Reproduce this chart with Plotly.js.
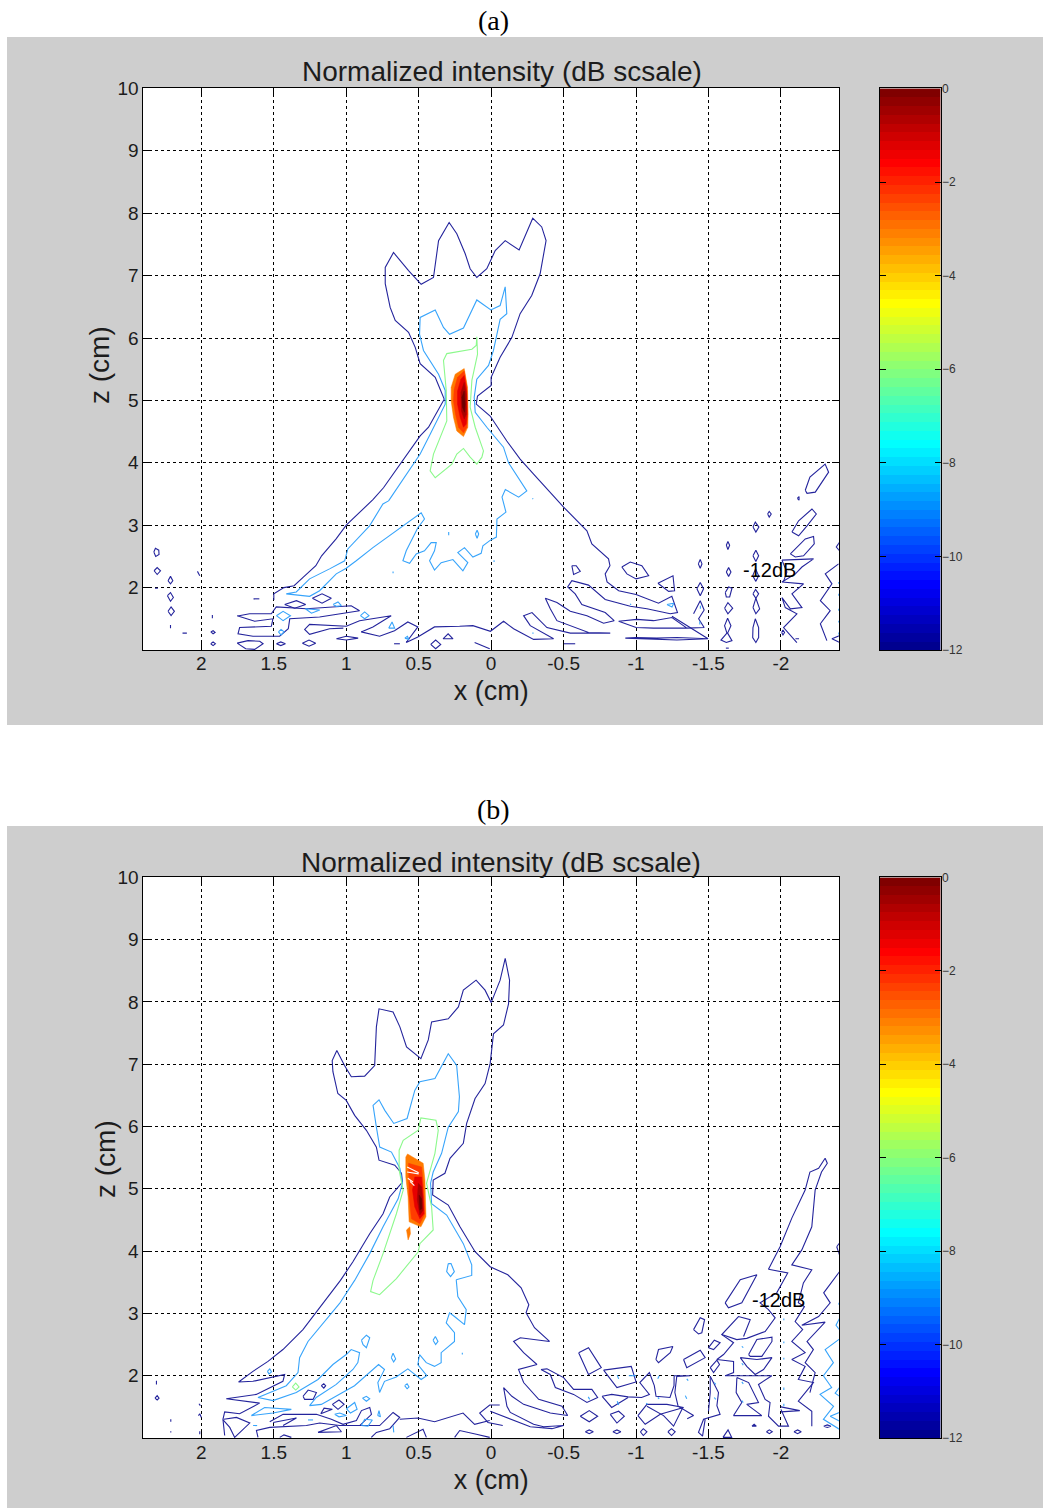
<!DOCTYPE html>
<html><head><meta charset="utf-8">
<script src="https://cdn.plot.ly/plotly-3.0.1.min.js"></script>
<style>html,body{margin:0;padding:0;background:#fff}#c{width:1043px;height:1508px}</style>
</head><body><div id="c"></div>
<script>
// ---------- values: each list is x0,z0,x1,z1,... (cm) ----------
const xTicks=[2,1.5,1,0.5,0,-0.5,-1,-1.5,-2];
const xTickText=['2','1.5','1','0.5','0','-0.5','-1','-1.5','-2'];
const zTicks=[2,3,4,5,6,7,8,9,10];
const dbTicks=[0,-2,-4,-6,-8,-10,-12];
const colorIndex=[[1],[2],[3],[4],[5],[6],[7],[8],[9],[10],[11],[12],[13],[14],[15],[16],[17],[18],[19],[20],[21],[22],[23],[24],[25],[26],[27],[28],[29],[30],[31],[32],[33],[34],[35],[36],[37],[38],[39],[40],[41],[42],[43],[44],[45],[46],[47],[48],[49],[50],[51],[52],[53],[54],[55],[56],[57],[58],[59],[60],[61],[62],[63],[64]];

// Panel (a), -12 dB contour
const a12Paths=[
[1.5,1.80,1.5,1.90,1.43,2.0,1.36,2.03,1.30,2.16,1.21,2.35,1.17,2.51,1.07,2.78,1,3,.816,3.41,.743,3.60,.616,4.01,.49,4.43,.432,4.57,.363,4.86,.324,5.02,.352,5.18,.386,5.37,.49,5.59,.524,5.85,.57,6.09,.662,6.28,.697,6.49,.731,6.87,.731,7.13,.674,7.37,.57,7.08,.483,6.86,.398,6.97,.363,7.56,.29,7.85,.237,7.67,.179,7.35,.145,7.11,.099,6.97,.03,7.11,-.028,7.40,-.097,7.56,-.193,7.41,-.287,7.92,-.349,7.78,-.379,7.56,-.338,7.03,-.28,6.68,-.2,6.39,-.143,6.01,-.062,5.69,0,5.37,0,5.24,.094,5.07,.103,4.94,.007,4.75,-.108,4.35,-.2,4.06,-.293,3.82,-.5,3.29,-.661,2.91,-.695,2.70,-.81,2.46,-.82,2.35,-.787,2.22,-.8,2.09,-.88,1.95,-1,1.89,-1.155,1.75,-1.247,1.86,-1.286,1.60,-1.236,1.58,-1.075,1.66,-.96,1.70,-.787,1.81,-.672,2.04,-.557,2.11,-.528,2.01,-.58,1.90,-.626,1.73,-.787,1.60,-.849,1.47,-.776,1.43,-.661,1.55,-.546,1.62,-.454,1.76,-.374,1.83,-.408,1.66,-.454,1.47,-.672,1.28,-.822,1.27,-.546,1.27,-.385,1.36,-.282,1.60,-.224,1.55,-.27,1.39,-.431,1.18,-.293,1.17,-.155,1.34,-.086,1.46,.005,1.30,.126,1.39,.218,1.38,.391,1.37,.506,1.21,.586,1.12,.506,1.37,.575,1.45,.667,1.31,.77,1.22,.897,1.29,.816,1.37,.69,1.55,.908,1.47,1,1.38,1.253,1.41,1.287,1.33,1.253,1.25,1.115,1.34,1.02,1.35],
[-2.007,2.44,-2.225,2.46,-2.145,2.33,-2.1,2.22,-2.007,2.09,-2.156,2.06,-2.076,1.90,-2.145,1.68,-2.065,1.66,-2.007,1.84,-2.03,1.68,-2.11,1.58,-2.018,1.36,-2.11,1.12],
[-2.007,2.44,-2.041,2.25,-2.018,2.10],
[-2.398,2.38,-2.306,2.22,-2.352,2.06,-2.272,1.79,-2.34,1.63,-2.272,1.42,-2.317,1.15],
[-2.405,2.73,-2.382,2.65,-2.405,2.59],[-2.405,1.23,-2.352,1.18,-2.405,1.12],
[-1.397,1.58,-1.443,1.79,-1.47,1.64,-1.432,1.50,-1.47,1.36,-1.351,1.35,-1.121,1.35,-1,1.36,-.88,1.46,-1.006,1.49,-1.121,1.47,-1.248,1.52,-1.351,1.35],
[-1.248,1.54,-1.497,1.18,-1.282,1.16,-1.144,1.17,-.926,1.19,-1,1.20,-1.144,1.19,-1.282,1.20,-1.497,1.18],
[.114,1.12,.01,1.02],[2.027,2.26,2.011,2.19],[1.924,1.56,1.924,1.51],[2.213,1.40,2.213,1.35],[2.13,1.27,2.10,1.27],[1.64,1.82,1.6,1.82],[2.32,1.99,2.30,1.99],[.67,1.10,.63,1.10],[-.5,1.10,-.58,1.10],[-2.1,1.18,-2.125,1.18],[-2.113,3.43,-2.125,3.46,-2.125,3.40,-2.113,3.43],[-1.64,1.03,-1.62,1.03]
];
const a12Loops=[
[1.753,1.55,1.74,1.55,1.667,1.58,1.517,1.58,1.483,1.69,1.276,1.66,.966,1.71,.908,1.63,1.184,1.53,1.39,1.50,1.40,1.34,1.46,1.22,1.644,1.22,1.747,1.26,1.736,1.36,1.517,1.38,1.506,1.50,1.632,1.46],
[1.234,1.83,1.167,1.90,1.103,1.83,1.167,1.75],[1.425,1.73,1.344,1.79,1.28,1.73,1.356,1.67],
[1.753,1.11,1.678,1.15,1.597,1.14,1.574,1.10,1.632,1.01,1.694,1.02],[1.482,1.10,1.452,1.13,1.42,1.10,1.452,1.07],
[1.303,1.11,1.257,1.16,1.211,1.11,1.257,1.06],[1.068,1.18,1,1.22,.918,1.19,1,1.16],[.417,1.09,.383,1.16,.348,1.09,.383,1.02],[.332,1.18,.297,1.26,.263,1.18],
[2.328,2.57,2.317,2.63,2.294,2.60,2.292,2.53,2.315,2.50],[2.326,2.27,2.305,2.32,2.282,2.27,2.305,2.21],[2.23,2.11,2.213,2.18,2.197,2.11,2.213,2.06],
[2.234,1.87,2.213,1.92,2.193,1.84,2.213,1.78],[2.23,1.62,2.209,1.69,2.186,1.62,2.209,1.55],[1.935,1.29,1.919,1.31,1.905,1.28,1.919,1.26],[1.935,1.10,1.919,1.13,1.903,1.10,1.919,1.07],
[-.557,2.35,-.587,2.35,-.615,2.26,-.569,2.21],[-.902,2.33,-.96,2.41,-1.04,2.35,-1.087,2.19,-1,2.14,-.937,2.22],[-1.151,2.07,-1.255,2.19,-1.266,1.95,-1.225,1.94],
[-1.43,2.38,-1.443,2.45,-1.455,2.38,-1.443,2.31],[-1.42,1.98,-1.443,2.08,-1.466,1.98,-1.443,1.87],
[-1.623,2.68,-1.634,2.74,-1.646,2.68,-1.634,2.61],[-1.623,2.25,-1.639,2.32,-1.655,2.25,-1.639,2.18],[-1.616,1.92,-1.639,2.01,-1.662,1.99,-1.646,1.85,-1.623,1.85],[-1.611,1.67,-1.634,1.76,-1.667,1.67,-1.634,1.58],
[-1.632,1.51,-1.655,1.39,-1.632,1.27,-1.662,1.15,-1.623,1.12,-1.586,1.16,-1.627,1.27,-1.611,1.39],
[-1.807,2.97,-1.823,3.05,-1.848,2.97,-1.827,2.89],[-1.807,2.51,-1.827,2.60,-1.846,2.51,-1.827,2.42],[-1.805,2.19,-1.825,2.30,-1.846,2.19,-1.827,2.10],[-1.807,1.90,-1.825,1.97,-1.846,1.90,-1.827,1.83],
[-1.807,1.68,-1.827,1.83,-1.853,1.66,-1.827,1.58],[-1.807,1.36,-1.823,1.50,-1.846,1.36,-1.846,1.20,-1.827,1.12,-1.805,1.20],[-1.908,3.18,-1.919,3.22,-1.933,3.18,-1.919,3.13],
[-2.168,3.56,-2.2,3.77,-2.305,3.98,-2.329,3.85,-2.237,3.53,-2.18,3.51],[-2.076,2.89,-2.122,3.07,-2.214,3.26,-2.244,3.18,-2.18,2.99,-2.122,2.83],[-2.065,2.54,-2.168,2.78,-2.225,2.82,-2.23,2.70,-2.156,2.51,-2.099,2.49],
[-2.005,1.28,-2.014,1.32,-2.025,1.28,-2.014,1.24]
];
// Panel (a), -9 dB contour
const a9Loops=[
[.708,3.39,.605,3.74,.49,4.14,.42,4.46,.363,4.73,.317,4.94,.317,5.16,.363,5.42,.467,5.80,.494,6.06,.49,6.33,.386,6.45,.329,6.17,.287,6.06,.191,6.16,.099,6.61,.002,6.45,-.062,6.52,-.097,6.82,-.108,6.39,-.062,6.30,-.016,5.80,.018,5.56,.099,5.34,.117,5.05,.11,4.81,.03,4.57,-.085,4.25,-.12,4.0,-.246,3.55,-.19,3.45,-.098,3.57,-.075,3.45,-.102,3.21,-.04,3.10,-.036,2.81,.005,2.76,.057,2.67,.069,2.55,.126,2.49,.184,2.64,.23,2.56,.161,2.40,.195,2.27,.264,2.45,.345,2.40,.391,2.28,.425,2.43,.391,2.59,.379,2.72,.414,2.72,.46,2.59,.517,2.54,.563,2.39,.609,2.43,.586,2.59,.506,2.96,.46,3.10,.483,3.20,.609,2.99,.816,2.64,.931,2.43,1,2.31,1.069,2.22,1.184,1.95,1.253,1.86,1.414,1.90,1.345,1.93,1.253,2.14,1.115,2.30,1.011,2.43,.989,2.62,.839,2.99,.747,3.34],
[1.482,1.55,1.436,1.62,1.385,1.55,1.436,1.47],[1.282,1.66,1.183,1.64,1.24,1.59],[1.091,1.73,1.057,1.77,1.034,1.71,1.068,1.70],[.902,1.55,.873,1.61,.843,1.55,.873,1.50],[1.468,1.29,1.45,1.33,1.429,1.29,1.45,1.24],[.707,1.35,.684,1.45,.666,1.35],[.596,1.19,.578,1.22,.567,1.17],[.109,2.86,.097,2.92,.086,2.86,.097,2.79],[-1.213,1.73,-1.26,1.75,-1.248,1.69]
];
const a9Paths=[[.293,2.89,.293,2.84],[.677,2.26,.677,2.23],[-.02,2.44,-.02,2.41],[-.285,3.43,-.29,3.42],[-.96,1.74,-.965,1.72],[-.287,1.28,-.29,1.26],[-1.444,1.71,-1.444,1.66],[-1.44,1.46,-1.44,1.41],[-2.399,2.09,-2.399,2.06],[-2.399,1.90,-2.399,1.87],[-2.399,1.66,-2.399,1.63],[-2.399,1.47,-2.399,1.44],[-2.399,1.28,-2.399,1.25]];
// Panel (a), -6 dB contour
const a6Loops=[[.099,6.02,.094,5.74,.133,5.32,.145,4.89,.11,4.57,.053,4.19,.064,4.09,.099,3.98,.145,4.09,.191,4.23,.237,4.14,.271,3.98,.386,3.76,.421,3.87,.398,4.14,.306,4.67,.31,5.16,.329,5.64,.306,5.75,.133,5.82,.103,5.88]];
// Panel (a), focal spot levels, outer to inner
const aSpot1=[.276,5.21,.248,5.42,.186,5.51,.163,5.21,.159,4.78,.161,4.57,.191,4.42,.237,4.51,.26,4.73,.276,4.99];
const aSpot2=[.255,5.18,.232,5.37,.186,5.47,.168,5.21,.163,4.78,.168,4.57,.191,4.48,.225,4.57,.246,4.78,.26,4.99];
const aSpot3=[.232,5.15,.209,5.34,.186,5.40,.168,5.15,.166,4.78,.172,4.62,.191,4.57,.214,4.73,.232,4.94];
const aSpot4=[.209,5.13,.186,5.29,.172,5.10,.172,4.78,.186,4.70,.205,4.83];
const aSpot5=[.202,5.05,.186,5.15,.179,4.94,.184,4.81,.198,4.89];

// Panel (b), -12 dB contour
const b12Paths=[
[.006,1.43,-.109,1.33,-.27,1.18,-.42,1.15,-.5,1.20,-.362,1.18,-.293,1.22,-.132,1.41,-.109,1.51,-.086,1.81,-.143,1.67,-.224,1.54,-.408,1.40,-.528,1.36,-.489,1.51,-.328,1.62,-.224,1.89,-.189,2.10,-.316,2.18,-.224,2.37,-.155,2.55,-.201,2.61,-.403,2.55,-.299,2.77,-.241,3.01,-.26,3.14,-.207,3.41,-.115,3.62,.007,3.75,.111,3.99,.215,4.39,.296,4.74,.404,4.90,.40,5.14,.319,5.25,.284,5.49,.192,5.73,.169,6.05,.111,6.45,.042,6.69,.007,7.01,-.016,7.49,-.085,7.63,-.12,7.97,-.127,8.35,-.097,8.70,-.062,8.35,0,7.99,.042,8.19,.104,8.35,.192,8.19,.226,7.92,.296,7.73,.411,7.68,.434,7.39,.485,7.09,.584,7.28,.63,7.60,.677,7.84,.774,7.89,.792,7.60,.804,6.98,.873,6.81,.965,6.80,1.012,6.98,1.065,7.22,1.097,7.06,1.092,6.88,1.058,6.53,1,6.42,.942,6.18,.861,5.94,.792,5.67,.774,5.46,.665,5.38,.619,5.25,.612,5.11,.70,4.87,.746,4.6,.838,4.28,.954,3.83,1.04,3.53,1.218,3.0,1.299,2.74,1.437,2.42,1.54,2.23,1.644,2.07,1.743,1.90,1.644,1.91,1.494,1.98,1.425,2.02,1.437,1.91,1.621,1.70,1.828,1.63,1.713,1.60,1.598,1.56,1.736,1.39,1.839,1.42,1.851,1.30,1.839,1.04],
[1.845,1.30,1.758,1.33,1.666,1.24,1.77,1.01,1.804,1.17,1.85,1.29],
[1.528,1.26,1.436,1.38,1.206,1.38,1.103,1.30,1.022,1.22,.93,1.28,.895,1.44,.838,1.49,.826,1.38,.907,1.20,1.045,1.20,1.183,1.24,1.275,1.20,1.528,1.17,1.62,1.12,1.609,1.01],
[1.505,1.25,1.344,1.32,1.436,1.20],
[.827,1.01,.792,1.09,.7,1.15,.631,1.33,.677,1.41,.769,1.20,.907,1.20],
[.631,1.30,.505,1.32,.39,1.26,.194,1.40,.114,1.22,.01,1.28],
[.585,1.01,.47,1.14,.447,1.01],[.252,1.01,.217,1.12,.102,1.06,.01,1.01],[-.059,1.53,.01,1.53,.079,1.40,.022,1.25,-.08,1.2],
[2.31,1.92,2.31,1.86],[2.016,1.55,2.007,1.52],[2.02,1.36,2.011,1.39,2.0,1.33],[2.011,1.11,2.011,1.06],[2.211,1.30,2.211,1.26],[2.211,1.11,2.211,1.09],[1.459,1.01,1.43,1.05,1.379,1.01],
[-1.914,3.71,-1.994,4.07,-2.075,4.53,-2.167,4.98,-2.2,5.27,-2.26,5.33,-2.305,5.49,-2.32,5.41,-2.28,5.27,-2.236,4.98,-2.213,4.39,-2.144,4.02,-2.075,3.78,-2.213,3.70,-2.155,3.49,-2.12,3.17,-2.162,3.11,-2.098,2.87,-2.15,2.74,-2.075,2.55,-2.167,2.37,-2.075,2.26,-2.167,2.15,-2.12,1.94,-2.224,1.89,-2.12,1.59,-2.213,1.43,-2.213,1.19],
[-1.914,3.71,-2.047,3.65,-1.971,3.33,-1.856,3.17,-1.914,3.06,-1.96,2.93,-1.891,2.71,-1.764,2.60,-1.695,2.58,-1.592,2.66,-1.707,2.95,-1.788,2.90,-1.742,2.63],
[-1.592,2.66,-1.673,2.53,-1.604,2.34,-1.558,2.26,-1.673,2.23,-1.673,2.05,-1.615,2.0,-1.937,2.0,-1.845,1.86,-1.891,1.62,-1.925,1.57,-1.914,1.35,-1.983,1.19,-2.052,1.19,-2.0,1.46],
[-.766,1.67,-.832,1.70,-.945,1.66,-1.038,1.65,-1.092,1.70,-1.026,1.89,-1.092,2.05,-1.126,1.84,-1.138,1.67,-1.234,1.65,-1.262,1.84,-1.263,2.0,-1.374,2.0,-1.281,1.99,-1.268,1.73,-1.29,1.51,-1.397,1.36,-1.353,1.31],
[-.766,1.67,-.832,1.49,-.945,1.65],
[-1.075,1.51,-1.19,1.36,-1.259,1.19,-1.323,1.49],
[-1.512,1.99,-1.569,1.73,-1.558,1.52,-1.58,1.38,-1.466,1.30,-1.431,1.09,-1.459,1.03,-1.477,1.30],
[-1.512,1.99,-1.512,1.73,-1.5,1.43],
[-2.404,3.67,-2.295,3.33,-2.34,3.17,-2.26,2.95,-2.144,2.81,-2.305,2.86,-2.18,2.55,-2.224,2.42,-2.167,2.21,-2.236,2.05,-2.2,1.73],
[-2.385,4.07,-2.404,4.13],[-2.385,4.07,-2.404,3.94],[-2.0,1.5,-2.13,1.44,-2.0,1.42]
];
const b12Loops=[
[1.298,1.67,1.263,1.77,1.206,1.73,1.229,1.62,1.287,1.62],[1.096,1.54,1.05,1.61,1.015,1.54,1.057,1.46],[1.172,1.84,1.155,1.87,1.142,1.84,1.155,1.80],[1.176,1.39,1.096,1.46,1.153,1.48],[1.195,1.09,1.068,1.20,1.033,1.10],[2.32,1.64,2.305,1.68,2.292,1.64,2.305,1.61],
[-1.615,3.17,-1.719,3.54,-1.834,3.62,-1.788,3.41,-1.73,3.17,-1.638,3.09],[-1.397,2.74,-1.443,2.93,-1.473,2.90,-1.454,2.69,-1.431,2.67],[-1.5,2.45,-1.54,2.57,-1.58,2.53,-1.535,2.42],
[-1.777,2.34,-1.834,2.58,-1.938,2.62,-1.938,2.55,-1.868,2.31,-1.788,2.31],[-1.719,2.29,-1.834,2.26,-1.938,2.29,-1.88,2.10,-1.822,2.02,-1.764,2.15],[-1.512,2.13,-1.558,2.25,-1.576,2.18,-1.535,2.05],
[-1.328,2.26,-1.443,2.41,-1.477,2.29,-1.35,2.13],[-1.137,2.26,-1.155,2.42,-1.254,2.47,-1.236,2.37,-1.155,2.21],[-.604,2.37,-.672,2.45,-.76,2.13,-.672,2.02],[-.776,2.09,-.967,2.15,-1,1.90,-.868,1.81],
[-.344,2.10,-.385,2.11,-.5,1.97,-.569,1.78,-.695,1.78,-.735,1.65,-.661,1.57,-.569,1.70,-.443,1.81,-.408,2.02],
[-1.013,1.36,-1.075,1.54,-1.213,1.54,-1.328,1.49,-1.167,1.38,-1.063,1.22],[-1.696,1.97,-1.777,1.89,-1.845,1.57,-1.764,1.54,-1.868,1.36,-1.673,1.36,-1.73,1.57,-1.691,1.73],
[-.615,1.35,-.677,1.44,-.735,1.35,-.677,1.26],[-.822,1.38,-.88,1.43,-.919,1.35,-.868,1.24],
[-.65,1.10,-.677,1.13,-.705,1.10,-.677,1.07],[-.84,1.10,-.868,1.13,-.895,1.10,-.868,1.07],[-1.03,1.10,-1.05,1.15,-1.075,1.10,-1.05,1.04],[-1.22,1.10,-1.245,1.15,-1.27,1.10,-1.245,1.04],[-1.60,1.01,-1.635,1.13,-1.66,1.01],[-1.80,1.19,-1.815,1.22,-1.83,1.19],[-1.90,1.10,-1.92,1.13,-1.94,1.10,-1.92,1.07],[-2.09,1.10,-2.115,1.13,-2.14,1.10,-2.115,1.07],[-2.295,1.19,-2.32,1.21,-2.345,1.19,-2.32,1.17]
];
// Panel (b), -9 dB contour
const b9Loops=[
[.241,3.54,.23,3.27,.172,3.06,.184,2.82,.253,2.95,.287,3.01,.31,2.85,.253,2.69,.253,2.55,.345,2.37,.345,2.21,.391,2.15,.448,2.21,.494,2.34,.506,2.18,.444,2.0,.483,1.94,.575,2.11,.655,1.98,.736,1.91,.77,1.73,.782,1.89,.736,2.10,.777,2.18,.943,1.84,1.046,1.70,1.172,1.54,1.253,1.52,1.207,1.65,1.069,1.86,.954,2.10,.92,2.21,.908,2.37,.966,2.42,1,2.34,1.092,2.18,1.195,1.94,1.345,1.73,1.506,1.60,1.609,1.65,1.414,1.84,1.333,2.05,1.322,2.29,1.264,2.55,1.046,3.16,.942,3.53,.838,3.96,.746,4.39,.642,4.84,.612,5.09,.63,5.33,.688,5.59,.769,5.67,.792,5.99,.815,6.34,.774,6.43,.734,6.26,.672,6.05,.58,6.13,.527,6.58,.492,6.72,.388,6.77,.296,7.17,.238,6.98,.219,6.48,.226,6.24,.296,5.99,.342,5.57,.40,5.27,.418,5.09,.411,4.76,.307,4.58,.192,4.12,.134,3.78,.134,3.61],
[.296,3.8,.277,3.8,.254,3.67,.28,3.59,.307,3.67],[1.655,1.36,1.563,1.49,1.379,1.46,1.505,1.40],[.895,2.57,.861,2.65,.838,2.61,.861,2.45,.884,2.50],[.401,2.57,.385,2.63,.367,2.55,.383,2.50],[.689,2.29,.677,2.36,.659,2.27,.673,2.22],[.597,1.84,.58,1.87,.567,1.82,.58,1.79],[.888,1.64,.861,1.67,.838,1.63,.861,1.59],[.783,1.36,.774,1.44,.764,1.34],[.999,1.47,.942,1.57,.925,1.46,.971,1.40],[1.08,1.38,1.045,1.40,.999,1.36,1.05,1.34],[.896,1.20,.873,1.30,.82,1.29,.85,1.19],[1.544,2.07,1.528,2.11,1.516,2.06,1.533,2.03]
];
const b9Paths=[
[1.643,1.20,1.615,1.20],[1.264,1.29,1.229,1.29],[.677,1.20,.672,1.09],[.199,2.37,.199,2.34],
[-2.404,2.59,-2.305,2.42,-2.362,2.21,-2.293,2.0,-2.35,1.81,-2.27,1.70,-2.363,1.51,-2.293,1.30,-2.404,1.14],
[-2.404,2.92,-2.38,2.81,-2.404,2.74],[-2.404,1.81,-2.374,1.72,-2.404,1.67],[-2.404,1.41,-2.34,1.35,-2.404,1.27],
[-.87,2.01,-.88,1.95],[-.95,2.0,-1.0,2.0],[-1.15,1.95,-1.16,2.0],[-.67,1.66,-.68,1.62],[-.87,1.59,-.88,1.53],[-1.15,1.65,-1.16,1.63],[-1.07,1.56,-1.08,1.54],[-1.35,1.95,-1.36,1.92],[-1.34,1.68,-1.35,1.63],[-1.54,1.89,-1.55,1.86],[-1.54,1.65,-1.55,1.62],[-1.73,1.90,-1.74,1.87],[-1.73,1.60,-1.74,1.57],[-2.02,2.92,-2.02,2.89],[-2.02,2.55,-2.02,2.52],[-2.02,2.29,-2.02,2.26],[-2.02,1.81,-2.02,1.77],[-2.02,1.55,-2.02,1.51],[-1.73,2.47,-1.74,2.45],[-1.73,2.20,-1.74,2.17],[-2.40,3.17,-2.40,3.14]
];
// Panel (b), -6 dB contour
const b6Loops=[
[.815,3.53,.746,3.96,.654,4.60,.607,4.98,.635,5.30,.635,5.62,.607,5.78,.503,5.94,.485,6.14,.381,6.10,.365,5.94,.388,5.57,.446,5.09,.411,4.71,.40,4.34,.492,4.12,.503,3.99,.654,3.56,.77,3.30,.832,3.35],
[1.372,1.82,1.349,1.88,1.326,1.82,1.349,1.77]
];
// Panel (b), focal spot levels, outer to inner
const bSpot1=[.589,5.51,.577,5.56,.469,5.41,.457,5.14,.45,4.55,.485,4.39,.566,4.47,.573,4.87,.589,5.19];
const bSpotTail=[.584,4.34,.561,4.39,.557,4.28,.573,4.18];
const bSpot2=[.57,5.41,.48,5.35,.469,5.09,.457,4.60,.492,4.44,.55,4.52,.566,4.87];
const bSpot3=[.527,5.19,.48,5.19,.469,4.87,.464,4.60,.492,4.52,.527,4.71,.543,4.98];
const bSpot4=[.503,5.09,.48,5.03,.469,4.66,.492,4.58,.51,4.82];
const bSpot5=[.497,4.90,.48,4.84,.478,4.68,.492,4.66];
const bSpotGaps=[[.58,5.35,.50,5.26],[.58,5.27,.50,5.24],[.575,5.17,.54,5.11],[.56,5.12,.53,5.05]];

// ---------- styles ----------
const COLOR12='#24249c',COLOR9='#37a4fb',COLOR6='#8cf98c';
const SPOT=['#ff7a00','#ff3c00','#e60000','#a80000','#6c0000'];
const jet=[[0,'rgb(0,0,143)'],[7/63,'rgb(0,0,255)'],[23/63,'rgb(0,255,255)'],[39/63,'rgb(255,255,0)'],[55/63,'rgb(255,0,0)'],[1,'rgb(128,0,0)']];
const TXT='#1c1c1c';
const FONT='"Liberation Sans",Arial,sans-serif';

function toXY(list,closed){
  const x=[],y=[];
  list.forEach(f=>{
    for(let i=0;i<f.length;i+=2){x.push(f[i]);y.push(f[i+1]);}
    if(closed){x.push(f[0]);y.push(f[1]);}
    x.push(null);y.push(null);
  });
  return {x,y};
}
function lines(paths,loops,color,ax,ay,name){
  const p=toXY(paths,false),l=toXY(loops,true);
  return {type:'scatter',mode:'lines',x:p.x.concat(l.x),y:p.y.concat(l.y),xaxis:ax,yaxis:ay,name,
    connectgaps:false,hoverinfo:'skip',line:{color,width:1.1,shape:'linear'},showlegend:false};
}
function fillPoly(f,color,ax,ay){
  const s=toXY([f],true);
  return {type:'scatter',mode:'lines',x:s.x,y:s.y,xaxis:ax,yaxis:ay,fill:'toself',fillcolor:color,
    line:{color,width:.5},hoverinfo:'skip',showlegend:false};
}
function bar(ax,ay){
  return {type:'heatmap',z:colorIndex,x0:0,dx:1,y0:-11.90625,dy:0.1875,xaxis:ax,yaxis:ay,
    colorscale:jet,zmin:1,zmax:64,zsmooth:false,showscale:false,hoverinfo:'skip'};
}
const data=[
 lines(a12Paths,a12Loops,COLOR12,'x','y','-12 dB'),
 lines(a9Paths,a9Loops,COLOR9,'x','y','-9 dB'),
 lines([],a6Loops,COLOR6,'x','y','-6 dB'),
 fillPoly(aSpot1,SPOT[0],'x','y'),fillPoly(aSpot2,SPOT[1],'x','y'),fillPoly(aSpot3,SPOT[2],'x','y'),fillPoly(aSpot4,SPOT[3],'x','y'),fillPoly(aSpot5,SPOT[4],'x','y'),
 lines(b12Paths,b12Loops,COLOR12,'x2','y2','-12 dB'),
 lines(b9Paths,b9Loops,COLOR9,'x2','y2','-9 dB'),
 lines([],b6Loops,COLOR6,'x2','y2','-6 dB'),
 fillPoly(bSpot1,SPOT[0],'x2','y2'),fillPoly(bSpotTail,SPOT[0],'x2','y2'),fillPoly(bSpot2,SPOT[1],'x2','y2'),fillPoly(bSpot3,SPOT[2],'x2','y2'),fillPoly(bSpot4,SPOT[3],'x2','y2'),fillPoly(bSpot5,SPOT[4],'x2','y2'),
 lines(bSpotGaps,[],'#ffffff','x2','y2','gaps'),
 bar('x3','y3'),bar('x4','y4')
];

// ---------- layout (pixels of the 1043x1508 window, as paper fractions) ----------
const W=1043,H=1508;
const px=v=>v/W, py=v=>1-v/H;
function xAxis(anchor,labelShift,standoff){
  return {domain:[px(143.4),px(838.9)],anchor,range:[2.4,-2.4],tickmode:'array',tickvals:xTicks,ticktext:xTickText,
    ticks:'inside',ticklen:7,tickcolor:'#000',showline:true,linecolor:'#000',linewidth:1,mirror:'ticks',
    showgrid:true,gridcolor:'#000',gridwidth:1,griddash:'3px,3px',zeroline:false,ticklabelstandoff:labelShift,
    tickfont:{family:FONT,size:19,color:TXT},
    title:{text:'x (cm)',font:{family:FONT,size:27,color:TXT},standoff}};
}
function yAxis(top,bottom,anchor){
  return {domain:[py(bottom),py(top+.4)],anchor,range:[1,10],tickmode:'array',tickvals:zTicks,
    ticks:'inside',ticklen:7,tickcolor:'#000',showline:true,linecolor:'#000',linewidth:1,mirror:'ticks',
    showgrid:true,gridcolor:'#000',gridwidth:1,griddash:'3px,3px',zeroline:false,
    tickfont:{family:FONT,size:19,color:TXT}};
}
function barX(anchor){
  return {domain:[px(879.5),px(940.6)],anchor,range:[-.5,.5],showticklabels:false,ticks:'',showgrid:false,zeroline:false,showline:true,linecolor:'#000',linewidth:1,mirror:true};
}
function barY(top,bottom,anchor){
  return {domain:[py(bottom),py(top+.4)],anchor,side:'right',range:[-12,0],tickmode:'array',tickvals:dbTicks,
    ticks:'inside',ticklen:6,tickcolor:'#000',showgrid:false,zeroline:false,showline:true,linecolor:'#000',linewidth:1,mirror:'ticks',ticklabelstandoff:-2,
    tickfont:{family:FONT,size:12,color:'#333'}};
}
const paperRect=(x0,y0,x1,y1,c)=>({type:'rect',xref:'paper',yref:'paper',x0:px(x0),x1:px(x1),y0:py(y1),y1:py(y0),fillcolor:c,line:{width:0},layer:'below'});
const paperText=(text,x,y,size,family,color,angle)=>({text,xref:'paper',yref:'paper',x:px(x),y:py(y),xanchor:'center',yanchor:'middle',showarrow:false,textangle:angle||0,font:{family,size,color}});
const SERIF='"Liberation Serif","Times New Roman",serif';
const layout={
  width:W,height:H,margin:{l:0,r:0,t:0,b:0},paper_bgcolor:'#fff',plot_bgcolor:'#fff',showlegend:false,
  xaxis:xAxis('y',-4,8),yaxis:yAxis(88,650,'x'),
  xaxis2:xAxis('y2',-3,8),yaxis2:yAxis(877,1438,'x2'),
  xaxis3:barX('y3'),yaxis3:barY(88,650,'x3'),
  xaxis4:barX('y4'),yaxis4:barY(877,1438,'x4'),
  shapes:[paperRect(7,37,1043,725,'#cecece'),paperRect(7,826,1043,1508,'#cecece'),paperRect(143,88,839,650,'#fff'),paperRect(143,877,839,1438,'#fff')],
  annotations:[
    paperText('(a)',493,21,28,SERIF,'#000'),
    paperText('(b)',493,809.5,28,SERIF,'#000'),
    paperText('Normalized intensity (dB scsale)',502,71.5,28,FONT,TXT),
    paperText('Normalized intensity (dB scsale)',501,862.5,28,FONT,TXT),
    paperText('z (cm)',100,365,28,FONT,TXT,-90),
    paperText('z (cm)',105,1159,28,FONT,TXT,-90),
    {text:'-12dB',xref:'x',yref:'y',x:-1.924,y:2.28,xanchor:'center',yanchor:'middle',showarrow:false,font:{family:FONT,size:20,color:'#000'}},
    {text:'-12dB',xref:'x2',yref:'y2',x:-1.98,y:3.21,xanchor:'center',yanchor:'middle',showarrow:false,font:{family:FONT,size:20,color:'#000'}}
  ]
};
Plotly.newPlot('c',data,layout,{staticPlot:true,displayModeBar:false});
</script></body></html>
